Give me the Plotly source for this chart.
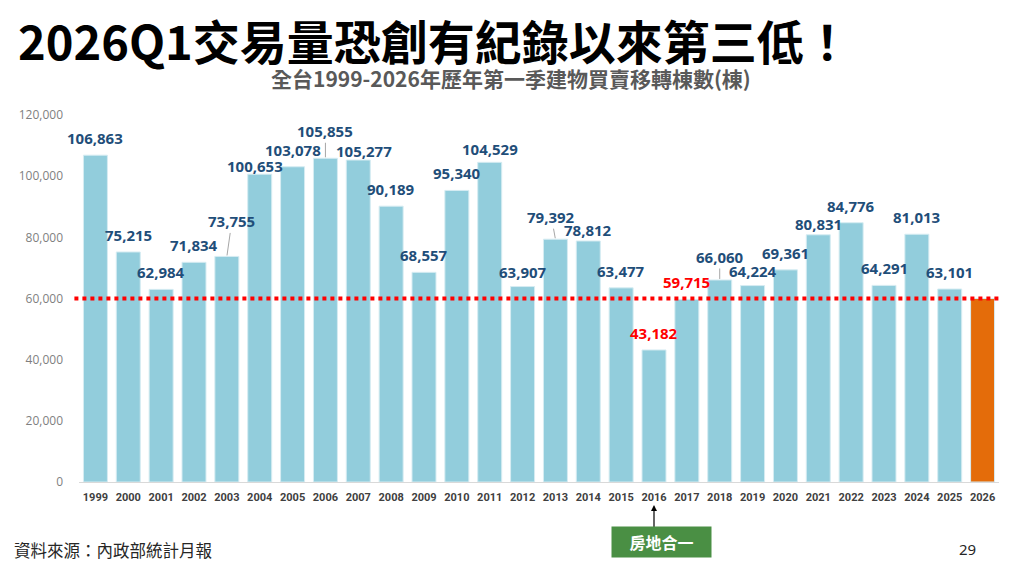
import plotly.graph_objects as go

years = list(range(1999, 2027))
units = [106863, 75215, 62984, 71834, 73755, 100653, 103078, 105855, 105277, 90189,
         68557, 95340, 104529, 63907, 79392, 78812, 63477, 43182, 59715, 66060,
         64224, 69361, 80831, 84776, 64291, 81013, 63101, 60000]
label_red = [2016, 2017]
no_label = [2026]
threshold = 60000
policy_year = 2016

# label offsets in px (dx, dy) where the default is (0, 17)
label_offsets = {2003: (5, 35), 2004: (-5, 8), 2006: (0, 27), 2007: (6, 9),
                 2011: (0, 13), 2012: (0, 15), 2013: (-4, 22), 2014: (0, 11),
                 2018: (0, 23), 2019: (0, 15), 2021: (0, 11)}
leader = [2003, 2006, 2013, 2018]

BLUE = '#92CDDC'
ORANGE = '#E46C0A'
LABEL = '#1F4E79'

colors = [ORANGE if y == 2026 else BLUE for y in years]

fig = go.Figure(go.Bar(x=years, y=units, marker_color=colors,
                       marker_line=dict(color='#D6ECF2', width=1), width=0.73))

for y, v in zip(years, units):
    if y in no_label:
        continue
    dx, dy = label_offsets.get(y, (0, 17))
    fig.add_annotation(
        x=y, y=v, text=f'{v:,}', showarrow=True, ax=dx, ay=-dy,
        arrowhead=0, arrowwidth=1, standoff=1,
        arrowcolor='#A6A6A6' if y in leader else 'rgba(0,0,0,0)',
        font=dict(family='Noto Sans, Open Sans', size=15,
                  color='#FF0000' if y in label_red else LABEL, weight='bold'))

# red dotted reference line
fig.add_shape(type='line', xref='paper', x0=-0.005, x1=1.0, y0=threshold, y1=threshold,
              line=dict(color='#FF0000', width=4, dash='dot'))

# titles
fig.add_annotation(xref='paper', yref='paper', x=-0.068, y=1.0, yshift=76,
                   xanchor='left', yanchor='middle', showarrow=False,
                   text='<b>2026Q1交易量恐創有紀錄以來第三低！</b>',
                   font=dict(family='Noto Sans CJK TC', size=47, color='#000000'))
fig.add_annotation(xref='paper', yref='paper', x=0.4696, y=1.0, yshift=37,
                   xanchor='center', yanchor='middle', showarrow=False,
                   text='<b>全台1999-2026年歷年第一季建物買賣移轉棟數(棟)</b>',
                   font=dict(family='Noto Sans CJK TC', size=21, color='#595959'))

# 房地合一 marker with arrow from the 2016 tick
fig.add_annotation(x=policy_year, yref='paper', y=-0.063, ax=0, ay=24,
                   showarrow=True, arrowhead=2, arrowsize=1, arrowwidth=1.2,
                   arrowcolor='#000000', text=' ', font=dict(size=1))
fig.add_annotation(x=policy_year, yref='paper', y=-0.1635, xshift=7, showarrow=False,
                   text='<b>房地合一</b>', bgcolor='#4A8F44',
                   borderpad=5, width=89, height=20, yanchor='middle',
                   font=dict(family='Noto Sans CJK TC', size=16, color='#FFFFFF'))

fig.add_annotation(xref='paper', yref='paper', x=-0.073, y=-0.185, xanchor='left',
                   yanchor='middle', showarrow=False, text='資料來源：內政部統計月報',
                   font=dict(family='Noto Sans CJK TC', size=16.5, color='#262626'))
fig.add_annotation(xref='paper', yref='paper', x=0.966, y=-0.1826, xanchor='center',
                   yanchor='middle', showarrow=False, text='29',
                   font=dict(family='Noto Sans', size=15, color='#262626'))

fig.update_layout(
    width=1016, height=562,
    margin=dict(l=71, r=25, t=107, b=88),
    paper_bgcolor='#FFFFFF', plot_bgcolor='#FFFFFF',
    showlegend=False,
    xaxis=dict(range=[years[0] - 0.5, years[-1] + 0.5], tickvals=years,
               showgrid=False, showline=True, linecolor='#D9D9D9', zeroline=False,
               linewidth=1, ticks='', ticklabelstandoff=5,
               tickfont=dict(family='Liberation Sans Narrow, Roboto',
                             size=11, color='#404040', weight='bold')),
    yaxis=dict(range=[0, 120000], dtick=20000, tickformat=',', showgrid=False,
               zeroline=False, ticks='', ticklabelstandoff=15,
               tickfont=dict(family='Open Sans, Noto Sans', size=12, color='#7F7F7F')),
)

fig.write_html('out.html')
